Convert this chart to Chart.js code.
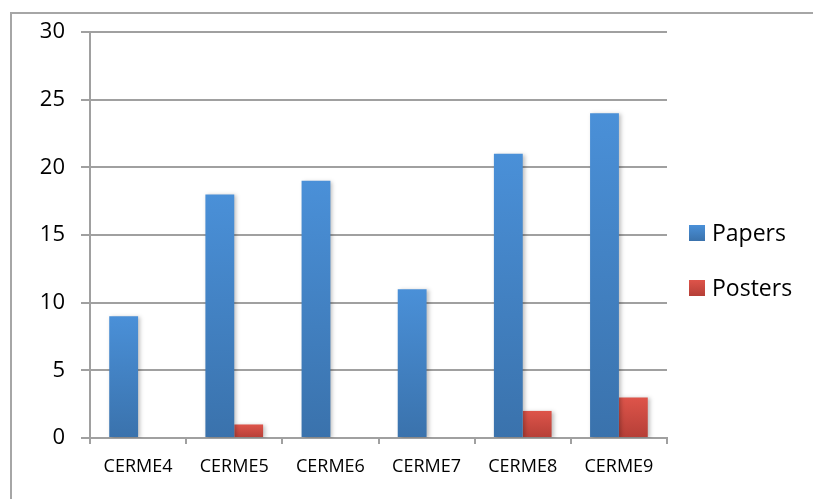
<!DOCTYPE html>
<html>
<head>
<meta charset="utf-8">
<script src="https://cdn.jsdelivr.net/npm/chart.js@4"></script>
<style>
  html, body { margin: 0; padding: 0; background: #fff; }
  #wrap { position: relative; width: 813px; height: 499px; overflow: hidden; }
  #frame { position: absolute; left: 10px; top: 12px; width: 900px; height: 600px; border: 2px solid #a6a6a6; box-sizing: border-box; }
  canvas { position: absolute; left: 0; top: 0; }
</style>
</head>
<body>
<div id="wrap">
  <div id="frame"></div>
  <canvas id="chart" width="813" height="499"></canvas>
</div>
<script>
// data
const categories = ['CERME4', 'CERME5', 'CERME6', 'CERME7', 'CERME8', 'CERME9'];
const papers = [9, 18, 19, 11, 21, 24];
const posters = [0, 1, 0, 0, 2, 3];
const yTicks = [0, 5, 10, 15, 20, 25, 30];

const font = '"Open Sans", Lato, sans-serif';
const colors = [['#4a90d8', '#3a72ac'], ['#de544a', '#b53f37']];

// Verlauf je Balken, von oben hell nach unten dunkel
function gradient(top, bottom) {
  return function(context) {
    const chart = context.chart;
    if (!chart.chartArea || context.type !== 'data') return top;
    const y = chart.scales.y;
    const yTop = y.getPixelForValue(context.parsed.y);
    const yBot = y.getPixelForValue(0);
    if (yBot - yTop < 1) return top;
    const g = chart.ctx.createLinearGradient(0, yTop, 0, yBot);
    g.addColorStop(0, top);
    g.addColorStop(1, bottom);
    return g;
  };
}

const shadow = {
  id: 'shadow',
  beforeDatasetsDraw(chart) {
    const ctx = chart.ctx;
    ctx.save();
    ctx.shadowColor = 'rgba(0,0,0,0.25)';
    ctx.shadowBlur = 4;
    ctx.shadowOffsetX = 2;
    ctx.shadowOffsetY = 1;
  },
  afterDatasetsDraw(chart) {
    chart.ctx.restore();
  }
};

// Legende rechts, Abstaende wie im Excel-Original
const sideLegend = {
  id: 'sideLegend',
  afterDraw(chart) {
    const ctx = chart.ctx;
    const x = chart.chartArea.right + 22;
    ctx.save();
    ctx.font = '23px ' + font;
    ctx.textBaseline = 'middle';
    ctx.fillStyle = '#000';
    chart.data.datasets.forEach((ds, i) => {
      const cy = 233 + i * 55;
      const g = ctx.createLinearGradient(0, cy - 8, 0, cy + 8);
      g.addColorStop(0, colors[i][0]);
      g.addColorStop(1, colors[i][1]);
      ctx.fillStyle = g;
      ctx.fillRect(x, cy - 8, 16, 16);
      ctx.fillStyle = '#000';
      ctx.fillText(ds.label, x + 23, cy + 1);
    });
    ctx.restore();
  }
};

new Chart(document.getElementById('chart'), {
  type: 'bar',
  data: {
    labels: categories,
    datasets: [{
      label: 'Papers',
      data: papers,
      backgroundColor: gradient(colors[0][0], colors[0][1]),
      categoryPercentage: 0.6,
      barPercentage: 1
    }, {
      label: 'Posters',
      data: posters,
      backgroundColor: gradient(colors[1][0], colors[1][1]),
      categoryPercentage: 0.6,
      barPercentage: 1
    }]
  },
  options: {
    responsive: false,
    animation: false,
    layout: { padding: { top: 32, right: 146, bottom: 0, left: 0 } },
    plugins: {
      tooltip: { enabled: false },
      legend: { display: false }
    },
    scales: {
      x: {
        grid: { display: true, drawOnChartArea: false, offset: true, color: '#a0a0a0', lineWidth: 2, tickLength: 6 },
        border: { color: '#a0a0a0', width: 2 },
        ticks: { font: { family: font, size: 18 }, color: '#000', padding: 12 },
        afterFit(scale) { scale.height = 61; }
      },
      y: {
        min: 0,
        max: 30,
        afterBuildTicks(scale) { scale.ticks = yTicks.map(v => ({ value: v })); },
        grid: { color: '#a0a0a0', lineWidth: 2, tickLength: 9 },
        border: { color: '#a0a0a0', width: 2 },
        ticks: { font: { family: font, size: 22 }, color: '#000', padding: 16 },
        afterFit(scale) { scale.width = 90; }
      }
    }
  },
  plugins: [shadow, sideLegend]
});
</script>
</body>
</html>
